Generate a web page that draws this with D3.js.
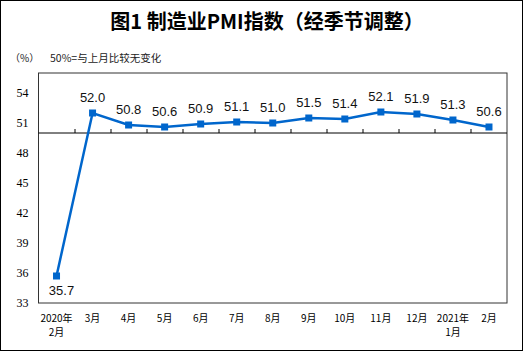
<!DOCTYPE html>
<html>
<head>
<meta charset="utf-8">
<script src="https://cdn.jsdelivr.net/npm/d3@7"></script>
<style>
  body { margin: 0; background: #fff; }
</style>
</head>
<body>
<div id="chart"></div>
<script>
const months = ["2020年\n2月", "3月", "4月", "5月", "6月", "7月", "8月", "9月", "10月", "11月", "12月", "2021年\n1月", "2月"];
const pmi = [35.7, 52.0, 50.8, 50.6, 50.9, 51.1, 51.0, 51.5, 51.4, 52.1, 51.9, 51.3, 50.6];
const yTicks = [33, 36, 39, 42, 45, 48, 51, 54];

const W = 525, H = 352;
const margin = {top: 73, right: 18, bottom: 49, left: 38.5};
const width = W - margin.left - margin.right,
    height = H - margin.top - margin.bottom;

const svg = d3.select("#chart")
    .append("svg")
    .attr("width", W)
    .attr("height", H);

// outer frame
svg.append("rect")
    .attr("x", 0.5).attr("y", 0.5)
    .attr("width", 522).attr("height", 350)
    .attr("fill", "none").attr("stroke", "#000");

svg.append("text")
    .attr("x", 267).attr("y", 29)
    .attr("text-anchor", "middle")
    .style("font-family", "'Noto Sans CJK SC'")
    .style("font-weight", "bold")
    .style("font-size", "20px")
    .text("图1 制造业PMI指数（经季节调整）");

svg.append("text")
    .attr("x", 10).attr("y", 62)
    .style("font-family", "'Noto Sans CJK SC'")
    .style("font-size", "10px")
    .style("fill", "#222")
    .text("（%）");

svg.append("text")
    .attr("x", 50).attr("y", 62)
    .style("font-family", "'Noto Sans CJK SC'")
    .style("font-size", "10.5px")
    .style("fill", "#222")
    .text("50%=与上月比较无变化");

const g = svg.append("g")
    .attr("transform", `translate(${margin.left}, ${margin.top})`);

const x = d3.scaleBand()
    .domain(months)
    .range([0, width]);

const y = d3.scaleLinear()
    .domain([33, 56])
    .range([height, 0]);

// plot frame
g.append("rect")
    .attr("width", width).attr("height", height)
    .attr("fill", "none").attr("stroke", "#333");

// y tick labels
g.selectAll(".ylab")
    .data(yTicks)
    .join("text")
    .attr("x", -10)
    .attr("y", d => y(d))
    .attr("dy", "0.35em")
    .attr("text-anchor", "end")
    .style("font-family", "'Liberation Serif'")
    .style("font-size", "12px")
    .text(d => d);

// 50 baseline with upward ticks at band edges
const y50 = y(50);
g.append("line")
    .attr("x1", 0).attr("x2", width)
    .attr("y1", y50).attr("y2", y50)
    .attr("stroke", "#000");

g.selectAll(".tick")
    .data(months.slice(1))
    .join("line")
    .attr("x1", d => Math.round(x(d)) + 0.5)
    .attr("x2", d => Math.round(x(d)) + 0.5)
    .attr("y1", y50)
    .attr("y2", y50 - 4)
    .attr("stroke", "#000");

// x labels
g.selectAll(".xlab")
    .data(months)
    .join("text")
    .attr("x", d => x(d) + x.bandwidth() / 2)
    .attr("y", height + 19)
    .attr("text-anchor", "middle")
    .style("font-family", "'Noto Sans CJK SC'")
    .style("font-size", "10px")
    .each(function (d) {
        const parts = d.split("\n");
        d3.select(this).selectAll("tspan")
            .data(parts)
            .join("tspan")
            .attr("x", x(d) + x.bandwidth() / 2)
            .attr("dy", (p, i) => i === 0 ? 0 : 14)
            .text(p => p);
    });

const line = d3.line()
    .x((d, i) => x(months[i]) + x.bandwidth() / 2)
    .y(d => y(d));

g.append("path")
    .datum(pmi)
    .attr("d", line)
    .attr("fill", "none")
    .attr("stroke", "#0066CC")
    .attr("stroke-width", 2.5);

g.selectAll(".pt")
    .data(pmi)
    .join("rect")
    .attr("x", (d, i) => x(months[i]) + x.bandwidth() / 2 - 3.5)
    .attr("y", d => y(d) - 3.5)
    .attr("width", 7)
    .attr("height", 7)
    .attr("fill", "#0066CC");

g.selectAll(".vlab")
    .data(pmi)
    .join("text")
    .attr("x", (d, i) => x(months[i]) + x.bandwidth() / 2 + (i === 0 ? 5 : 0))
    .attr("y", (d, i) => i === 0 ? y(d) + 19 : y(d) - 11)
    .attr("text-anchor", "middle")
    .style("font-family", "'Liberation Sans'")
    .style("font-size", "13px")
    .style("fill", "#111")
    .text(d => d.toFixed(1));
</script>
</body>
</html>
